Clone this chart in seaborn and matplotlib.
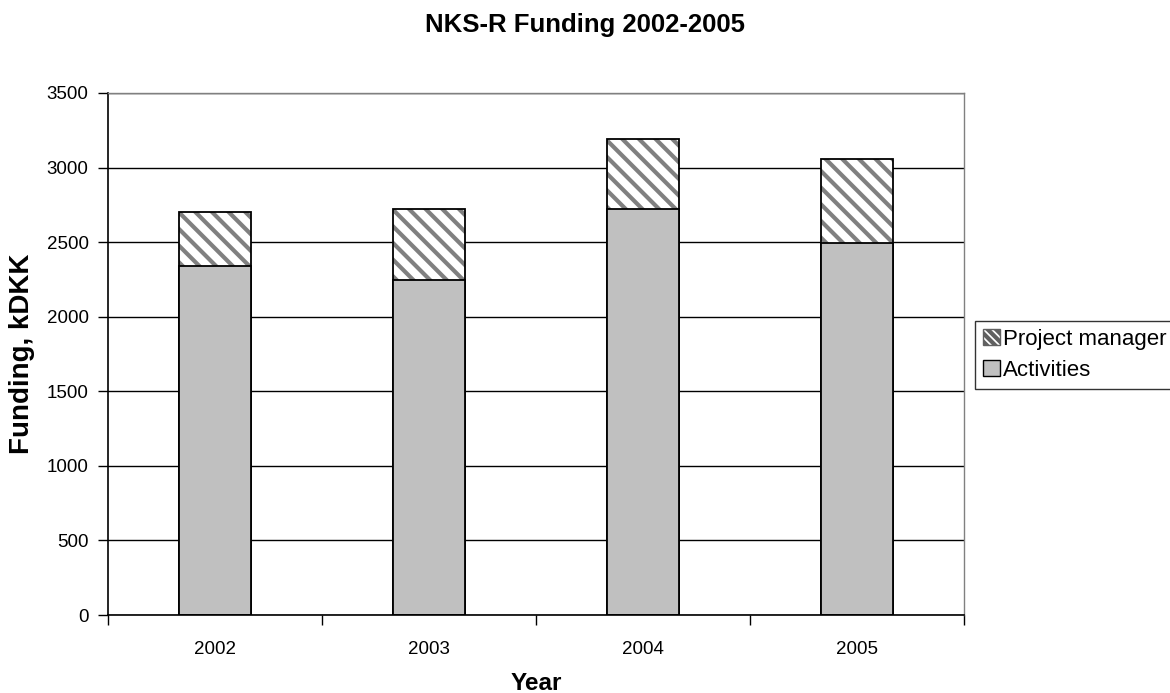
import numpy as np
import pandas as pd
import matplotlib
matplotlib.use('Agg')
import matplotlib.pyplot as plt
import matplotlib.patches as mpatches
import seaborn as sns

# data (kDKK)
years = ['2002', '2003', '2004', '2005']
activities = [2340, 2245, 2725, 2495]
project_mgmt = [365, 475, 465, 565]
yticks = [0, 500, 1000, 1500, 2000, 2500, 3000, 3500]

sns.set_style('white')
plt.rcParams['font.family'] = ['Liberation Sans', 'DejaVu Sans']
plt.rcParams['hatch.linewidth'] = 3.0
plt.rcParams['text.color'] = 'black'
plt.rcParams['axes.labelcolor'] = 'black'
plt.rcParams['xtick.color'] = 'black'
plt.rcParams['ytick.color'] = 'black'

df = pd.DataFrame({'Year': years, 'Activities': activities,
                   'Project manager': project_mgmt})
df['Total'] = df['Activities'] + df['Project manager']

fig = plt.figure(figsize=(11.7, 6.93), dpi=100)
ax = fig.add_axes([108/1170, 1-615/693, (964-108)/1170, (615-93)/693])

bw = 0.336
# total bar with hatch (project manager part on top)
sns.barplot(data=df, x='Year', y='Total', color='white', width=bw,
            edgecolor='#808080', linewidth=0, hatch='\\\\', saturation=1, ax=ax)
# outline for the total bar
sns.barplot(data=df, x='Year', y='Total', fill=False, width=bw,
            edgecolor='black', linewidth=1.3, ax=ax)
# activities in front
sns.barplot(data=df, x='Year', y='Activities', color='#c0c0c0', width=bw,
            edgecolor='black', linewidth=1.3, saturation=1, ax=ax)

ax.set_ylim(0, 3500)
ax.set_xlim(-0.5, 3.5)
ax.set_yticks(yticks)
ax.yaxis.grid(True, color='black', linewidth=1)
ax.set_axisbelow(True)
ax.tick_params(axis='y', direction='out', length=7, width=1, color='black',
               labelsize=13.5, left=True, pad=7)
ax.tick_params(axis='x', which='major', length=0, labelsize=13.5, pad=19)
ax.set_xticks(np.arange(-0.5, 4.0, 1.0), minor=True)
ax.tick_params(axis='x', which='minor', direction='out', length=7, width=1,
               color='black', bottom=True)

for s in ['left', 'bottom']:
    ax.spines[s].set_color('black')
    ax.spines[s].set_linewidth(1.2)
for s in ['top', 'right']:
    ax.spines[s].set_color('#808080')
    ax.spines[s].set_linewidth(1)

ax.set_xlabel('Year', fontsize=17.5, fontweight='bold', labelpad=10)
ax.set_ylabel('Funding, kDKK', fontsize=20, fontweight='bold', labelpad=8)
fig.suptitle('NKS-R Funding 2002-2005', fontsize=18.5, fontweight='bold',
             y=1-25/693, va='center')

handles = [mpatches.Patch(facecolor='white', edgecolor='#606060', hatch='\\\\\\\\',
                          label='Project manager'),
           mpatches.Patch(facecolor='#c0c0c0', edgecolor='black', label='Activities')]
leg = fig.legend(handles=handles, loc='upper left',
                 bbox_to_anchor=(975/1170, 1-321/693), frameon=True,
                 fancybox=False, edgecolor='black', fontsize=16,
                 handlelength=0.75, handleheight=0.75, handletextpad=0.14,
                 borderpad=0.36, labelspacing=0.45, borderaxespad=0)
leg.get_frame().set_linewidth(1.0)

fig.savefig('out.png', dpi=100)
